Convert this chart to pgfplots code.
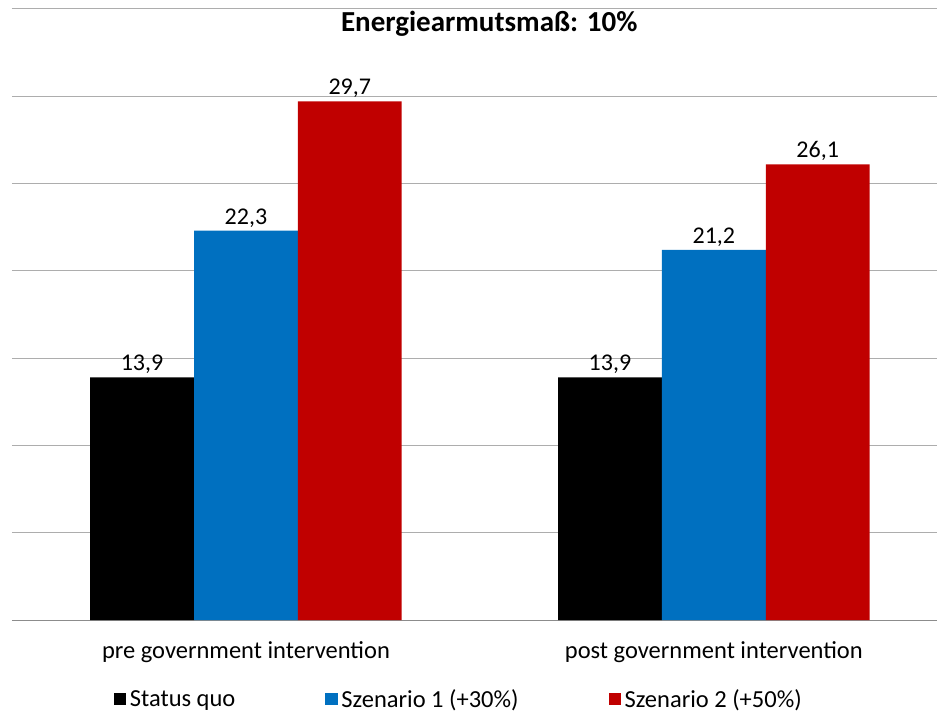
\documentclass[border=0pt]{standalone}
\usepackage{pgfplots}
\pgfplotsset{compat=1.18}
\usepackage{fontspec}
\setmainfont{Carlito}
\definecolor{cblue}{HTML}{0070C0}
\definecolor{cred}{HTML}{C00000}
\definecolor{gridgray}{HTML}{ADADAD}
\definecolor{axgray}{HTML}{8C8C8C}
\begin{document}
\begin{tikzpicture}[x=1pt,y=1pt]
\useasboundingbox (0,0) rectangle (937,715);
\begin{axis}[
  at={(12pt,95pt)}, anchor=south west,
  scale only axis, width=925pt, height=628.5pt,
  xmin=-0.5, xmax=1.477, ymin=0, ymax=36,
  axis x line*=bottom, axis y line*=left,
  y axis line style={draw=none},
  x axis line style={axgray, line width=1pt},
  ytick={5,10,15,20,25,30}, yticklabels={}, ymajorgrids,
  extra y ticks={35}, extra y tick labels={},
  extra y tick style={ymajorgrids, major y tick style={draw=none}},
  grid style={gridgray, line width=1pt},
  major y tick style={draw=none},
  xtick={0,1},
  xticklabels={pre government intervention, post government intervention},
  major x tick style={draw=none},
  xticklabel style={font=\fontsize{24.5}{28}\selectfont, yshift=-14pt},
  extra x ticks={-0.5,0.5},
  extra x tick labels={},
  extra x tick style={major tick style={draw=axgray, line width=1pt}, major tick length=8pt, tick align=outside},
  ybar, bar width=0.222,
  nodes near coords,
  every node near coord/.append style={font=\fontsize{24}{28}\selectfont, text=black},
  /pgf/number format/.cd, fixed, precision=1, fixed zerofill, use comma, assume math mode=true, /pgfplots/.cd,
  title={Energiearmutsmaß: 10\%},
  title style={at={(axis cs:0.52,33.8)}, anchor=center, font=\bfseries\fontsize{29}{33}\selectfont},
  legend columns=3,
  legend style={draw=none, at={(axis cs:0.455,-4.55)}, anchor=center, font=\fontsize{24.5}{28}\selectfont,
    /tikz/every even column/.append style={column sep=88pt}},
  legend image code/.code={\fill[#1] (0pt,-6pt) rectangle (12.5pt,6.5pt); \path (14pt,0pt);},
]
\addplot[fill=black, draw=none, bar shift=-0.222] coordinates {(0,13.9) (1,13.9)};
\addplot[fill=cblue, draw=none, bar shift=0] coordinates {(0,22.3) (1,21.2)};
\addplot[fill=cred, draw=none, bar shift=0.222] coordinates {(0,29.7) (1,26.1)};
\legend{Status quo, Szenario 1 (+30\%), Szenario 2 (+50\%)}
\draw[gridgray, line width=1pt] (axis cs:-0.5,35) -- (axis cs:1.477,35);
\end{axis}
\end{tikzpicture}
\end{document}
